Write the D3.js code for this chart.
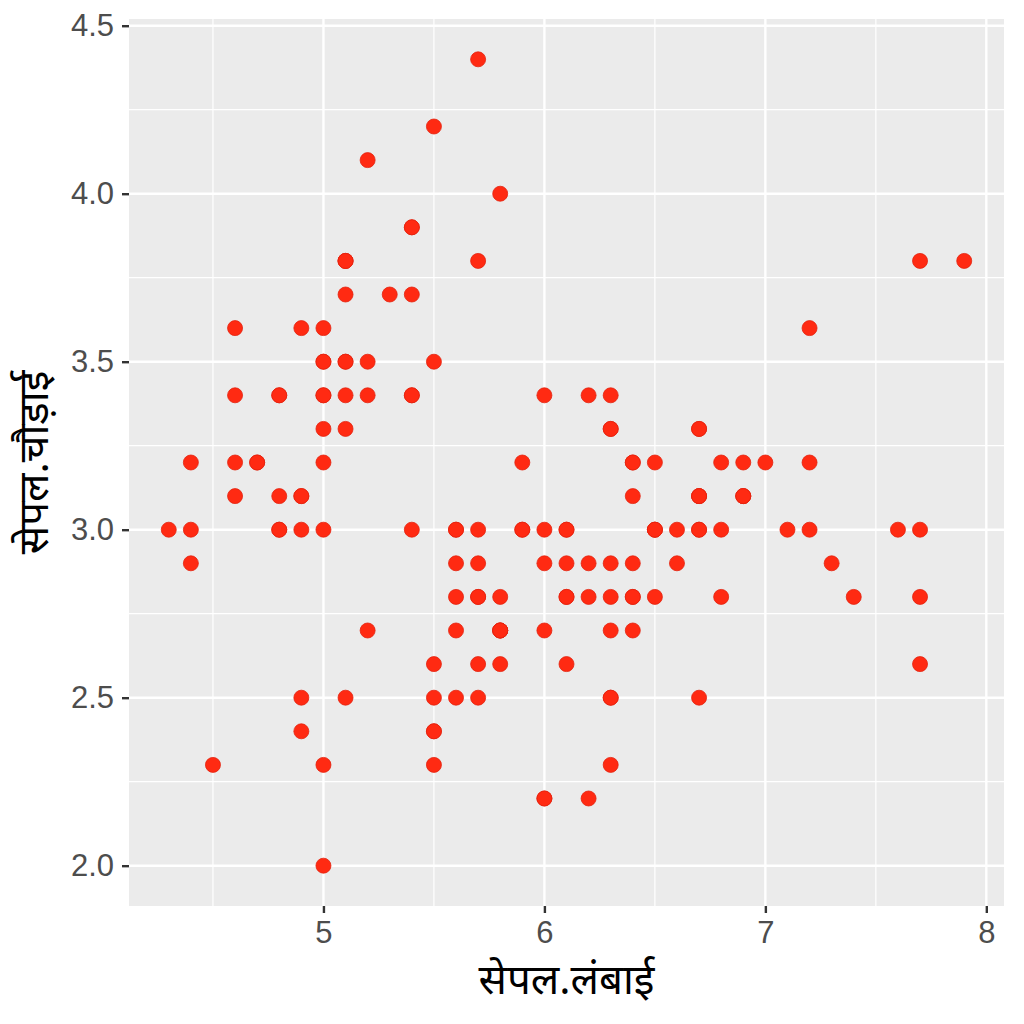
<!DOCTYPE html>
<html>
<head>
<meta charset="utf-8">
<script src="https://cdn.jsdelivr.net/npm/d3@7"></script>
<style>
  body { margin: 0; background: #fff; }
  text { font-family: "Liberation Sans", Arial, sans-serif; }
</style>
</head>
<body>
<div id="chart"></div>
<script>
// iris: sepal length / sepal width
const sepalLength = [
  5.1,4.9,4.7,4.6,5.0,5.4,4.6,5.0,4.4,4.9,5.4,4.8,4.8,4.3,5.8,5.7,5.4,5.1,5.7,5.1,
  5.4,5.1,4.6,5.1,4.8,5.0,5.0,5.2,5.2,4.7,4.8,5.4,5.2,5.5,4.9,5.0,5.5,4.9,4.4,5.1,
  5.0,4.5,4.4,5.0,5.1,4.8,5.1,4.6,5.3,5.0,
  7.0,6.4,6.9,5.5,6.5,5.7,6.3,4.9,6.6,5.2,5.0,5.9,6.0,6.1,5.6,6.7,5.6,5.8,6.2,5.6,
  5.9,6.1,6.3,6.1,6.4,6.6,6.8,6.7,6.0,5.7,5.5,5.5,5.8,6.0,5.4,6.0,6.7,6.3,5.6,5.5,
  5.5,6.1,5.8,5.0,5.6,5.7,5.7,6.2,5.1,5.7,
  6.3,5.8,7.1,6.3,6.5,7.6,4.9,7.3,6.7,7.2,6.5,6.4,6.8,5.7,5.8,6.4,6.5,7.7,7.7,6.0,
  6.9,5.6,7.7,6.3,6.7,7.2,6.2,6.1,6.4,7.2,7.4,7.9,6.4,6.3,6.1,7.7,6.3,6.4,6.0,6.9,
  6.7,6.9,5.8,6.8,6.7,6.7,6.3,6.5,6.2,5.9
];
const sepalWidth = [
  3.5,3.0,3.2,3.1,3.6,3.9,3.4,3.4,2.9,3.1,3.7,3.4,3.0,3.0,4.0,4.4,3.9,3.5,3.8,3.8,
  3.4,3.7,3.6,3.3,3.4,3.0,3.4,3.5,3.4,3.2,3.1,3.4,4.1,4.2,3.1,3.2,3.5,3.6,3.0,3.4,
  3.5,2.3,3.2,3.5,3.8,3.0,3.8,3.2,3.7,3.3,
  3.2,3.2,3.1,2.3,2.8,2.8,3.3,2.4,2.9,2.7,2.0,3.0,2.2,2.9,2.9,3.1,3.0,2.7,2.2,2.5,
  3.2,2.8,2.5,2.8,2.9,3.0,2.8,3.0,2.9,2.6,2.4,2.4,2.7,2.7,3.0,3.4,3.1,2.3,3.0,2.5,
  2.6,3.0,2.6,2.3,2.7,3.0,2.9,2.9,2.5,2.8,
  3.3,2.7,3.0,2.9,3.0,3.0,2.5,2.9,2.5,3.6,3.2,2.7,3.0,2.5,2.8,3.2,3.0,3.8,2.6,2.2,
  3.2,2.8,2.8,2.7,3.3,3.2,2.8,3.0,2.8,3.0,2.8,3.8,2.8,2.8,2.6,3.0,3.4,3.1,3.0,3.1,
  3.1,3.1,2.7,3.2,3.3,3.0,2.5,3.0,3.4,3.0
];
const xTicks = [5, 6, 7, 8];
const yTicks = [2.0, 2.5, 3.0, 3.5, 4.0, 4.5];
const xTitle = "सेपल.लंबाई";
const yTitle = "सेपल.चौड़ाई";

const data = sepalLength.map((d, i) => ({x: d, y: sepalWidth[i]}));

const width = 1024, height = 1024;
const margin = {top: 19, right: 20, bottom: 118, left: 129};
const innerW = width - margin.left - margin.right;
const innerH = height - margin.top - margin.bottom;

// ggplot style 5% expansion
const xExt = d3.extent(sepalLength), yExt = d3.extent(sepalWidth);
const xPad = (xExt[1] - xExt[0]) * 0.05, yPad = (yExt[1] - yExt[0]) * 0.05;

const x = d3.scaleLinear().domain([xExt[0] - xPad, xExt[1] + xPad]).range([0, innerW]);
const y = d3.scaleLinear().domain([yExt[0] - yPad, yExt[1] + yPad]).range([innerH, 0]);

const svg = d3.select("#chart").append("svg")
    .attr("width", width)
    .attr("height", height);

const g = svg.append("g")
    .attr("transform", `translate(${margin.left},${margin.top})`);

// panel background
g.append("rect")
    .attr("width", innerW)
    .attr("height", innerH)
    .attr("fill", "#ebebeb");

// minor grid lines (midpoints between breaks)
const xMinor = [4.5, 5.5, 6.5, 7.5];
const yMinor = [2.25, 2.75, 3.25, 3.75, 4.25];

g.append("g").selectAll("line")
    .data(xMinor)
    .join("line")
    .attr("x1", d => x(d)).attr("x2", d => x(d))
    .attr("y1", 0).attr("y2", innerH)
    .attr("stroke", "#fff").attr("stroke-width", 1.2);

g.append("g").selectAll("line")
    .data(yMinor)
    .join("line")
    .attr("y1", d => y(d)).attr("y2", d => y(d))
    .attr("x1", 0).attr("x2", innerW)
    .attr("stroke", "#fff").attr("stroke-width", 1.2);

// major grid lines
g.append("g").selectAll("line")
    .data(xTicks)
    .join("line")
    .attr("x1", d => x(d)).attr("x2", d => x(d))
    .attr("y1", 0).attr("y2", innerH)
    .attr("stroke", "#fff").attr("stroke-width", 2.4);

g.append("g").selectAll("line")
    .data(yTicks)
    .join("line")
    .attr("y1", d => y(d)).attr("y2", d => y(d))
    .attr("x1", 0).attr("x2", innerW)
    .attr("stroke", "#fff").attr("stroke-width", 2.4);

// axes
const xAxis = g.append("g")
    .attr("transform", `translate(0,${innerH})`)
    .call(d3.axisBottom(x).tickValues(xTicks).tickFormat(d3.format("d")).tickSize(7).tickPadding(8));

const yAxis = g.append("g")
    .call(d3.axisLeft(y).tickValues(yTicks).tickFormat(d3.format(".1f")).tickSize(7).tickPadding(8));

[xAxis, yAxis].forEach(a => {
    a.select(".domain").remove();
    a.selectAll(".tick line").attr("stroke", "#333").attr("stroke-width", 2.4);
    a.selectAll(".tick text")
        .attr("fill", "#4d4d4d")
        .style("font-size", "31px")
        .style("font-family", "'Liberation Sans', Arial, sans-serif");
});

// points
g.append("g").selectAll("circle")
    .data(data)
    .join("circle")
    .attr("cx", d => x(d.x))
    .attr("cy", d => y(d.y))
    .attr("r", 7.5)
    .attr("fill", "#ff2a12")
    .attr("stroke", "#e3220e")
    .attr("stroke-width", 0.8);

// axis titles
svg.append("text")
    .attr("x", margin.left + innerW / 2)
    .attr("y", 994)
    .attr("text-anchor", "middle")
    .attr("fill", "#000")
    .style("font-size", "42px")
    .style("font-family", "'Noto Sans', 'Noto Sans Devanagari', 'Lohit Devanagari', sans-serif")
    .text(xTitle);

svg.append("text")
    .attr("transform", `translate(48,${margin.top + innerH / 2}) rotate(-90)`)
    .attr("text-anchor", "middle")
    .attr("fill", "#000")
    .style("font-size", "42px")
    .style("font-family", "'Noto Sans', 'Noto Sans Devanagari', 'Lohit Devanagari', sans-serif")
    .text(yTitle);
</script>
</body>
</html>
